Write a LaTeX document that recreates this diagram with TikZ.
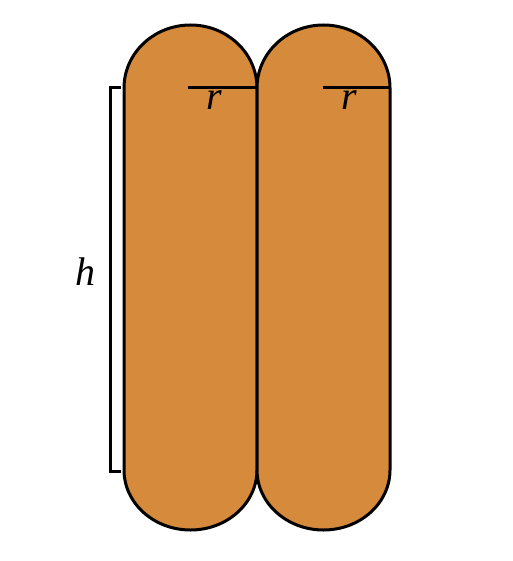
\documentclass[tikz,border=0pt]{standalone}
\usepackage{fontspec}
\setmainfont{Liberation Serif}
\begin{document}
\begin{tikzpicture}[x=1pt,y=-1pt,
  capsule/.style={fill=capfill,draw=black,line width=3pt},
  mark line/.style={draw=black,line width=3pt},
  lab/.style={font=\fontsize{40}{42}\selectfont\itshape,anchor=base,inner sep=0pt}]
\definecolor{capfill}{RGB}{213,138,60}
\useasboundingbox (0,0) rectangle (512,561);
% left capsule
\draw[capsule] (124,88) arc[start angle=180,end angle=360,x radius=66.5,y radius=63]
  -- (257,470) arc[start angle=0,end angle=-180,x radius=66.5,y radius=-60] -- cycle;
% right capsule
\draw[capsule] (257,88) arc[start angle=180,end angle=360,x radius=66.5,y radius=63]
  -- (390,470) arc[start angle=0,end angle=-180,x radius=66.5,y radius=-60] -- cycle;
% radii
\coordinate (ra1) at (188,88); \coordinate (rb1) at (257,88);
\coordinate (ra2) at (323,88); \coordinate (rb2) at (390,88);
\draw[mark line] (ra1) -- (rb1);
\draw[mark line] (ra2) -- (rb2);
\node[lab] (r1) at (214,110) {r};
\node[lab] (r2) at (349,110) {r};
% height bracket
\coordinate (bt) at (121,88); \coordinate (bb) at (121,471);
\draw[mark line] (bt) -| (110,471) -- (bb);
\node[lab] (h) at (85,285) {h};
\end{tikzpicture}
\end{document}
